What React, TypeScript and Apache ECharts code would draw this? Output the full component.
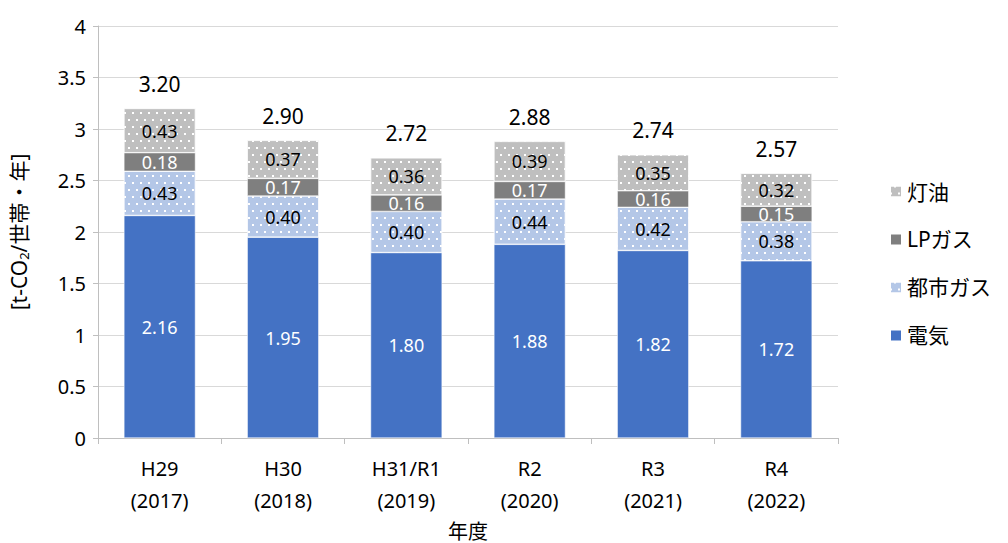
import React, { useEffect, useRef } from "react";
import * as echarts from "echarts";

const categories = ["H29\n(2017)", "H30\n(2018)", "H31/R1\n(2019)", "R2\n(2020)", "R3\n(2021)", "R4\n(2022)"];
const electricity = [2.16, 1.95, 1.8, 1.88, 1.82, 1.72];
const cityGas = [0.43, 0.4, 0.4, 0.44, 0.42, 0.38];
const lpGas = [0.18, 0.17, 0.16, 0.17, 0.16, 0.15];
const kerosene = [0.43, 0.37, 0.36, 0.39, 0.35, 0.32];
const totals = [3.2, 2.9, 2.72, 2.88, 2.74, 2.57];
const yTicks = [0, 0.5, 1, 1.5, 2, 2.5, 3, 3.5, 4];

const FONT = "'Noto Sans', 'Noto Sans CJK JP', sans-serif";

const dotDecal = {
  symbol: "rect",
  symbolSize: 1,
  color: "#ffffff",
  dashArrayX: [[2, 6], [0, 4, 2, 2]],
  dashArrayY: [2, 5],
  rotation: 0,
};

export default function App() {
  const ref = useRef<HTMLDivElement>(null);
  useEffect(() => {
    const chart = echarts.init(ref.current!, null, { renderer: "svg" });
    const fmt = (v: number) => v.toFixed(2);
    const common = (name: string, data: number[], color: string, labelColor: string, decal?: any) => ({
      name,
      type: "bar",
      stack: "total",
      data,
      barWidth: "58%",
      itemStyle: { color, borderColor: "#ffffff", borderWidth: 0.5, ...(decal ? { decal } : {}) },
      label: {
        show: true,
        position: "inside",
        color: labelColor,
        fontSize: 18,
        fontFamily: FONT,
        formatter: (p: any) => fmt(p.value),
      },
    });
    chart.setOption({
      animation: false,
      aria: { enabled: false, decal: { show: false } },
      grid: { left: 98, right: 170, top: 26, bottom: 105, outerBoundsMode: "none", containLabel: false },
      legend: {
        orient: "vertical",
        left: 884,
        top: 176,
        itemWidth: 12,
        itemHeight: 12,
        itemGap: 27,
        icon: "rect",
        data: ["灯油", "LPガス", "都市ガス", "電気"],
        textStyle: { fontSize: 21, fontFamily: FONT, color: "#000" },
      },
      xAxis: {
        type: "category",
        data: categories,
        name: "年度",
        nameLocation: "middle",
        nameGap: 80,
        nameTextStyle: { fontSize: 20, fontFamily: FONT, color: "#000", lineHeight: 22 },
        axisLine: { lineStyle: { color: "#bfbfbf" } },
        axisTick: { show: true, length: 6, lineStyle: { color: "#bfbfbf" } },
        axisLabel: { fontSize: 20, fontFamily: FONT, color: "#000", lineHeight: 32, margin: 14, interval: 0 },
      },
      yAxis: {
        type: "value",
        min: yTicks[0],
        max: yTicks[yTicks.length - 1],
        interval: 0.5,
        name: "{a|[t-CO}{s|2}{a|/世帯・年]}",
        nameLocation: "middle",
        nameRotate: 90,
        nameGap: 68,
        nameTextStyle: {
          rich: {
            a: { fontSize: 21, fontFamily: FONT, color: "#000" },
            s: { fontSize: 13, fontFamily: FONT, color: "#000", padding: [10, 0, 0, 0] },
          },
        },
        axisLine: { show: true, lineStyle: { color: "#bfbfbf" } },
        axisTick: { show: true, length: 5, lineStyle: { color: "#bfbfbf" } },
        splitLine: { lineStyle: { color: "#d9d9d9" } },
        axisLabel: { fontSize: 20, fontFamily: FONT, color: "#000", margin: 12 },
      },
      series: [
        common("電気", electricity, "#4472c4", "#ffffff"),
        common("都市ガス", cityGas, "#b4c7e7", "#000000", dotDecal),
        common("LPガス", lpGas, "#7f7f7f", "#ffffff"),
        common("灯油", kerosene, "#bfbfbf", "#000000", dotDecal),
        {
          name: "合計",
          type: "bar",
          stack: "total",
          data: totals.map(() => 0),
          barWidth: "58%",
          itemStyle: { color: "transparent" },
          label: {
            show: true,
            position: "top",
            distance: 14,
            color: "#000",
            fontSize: 21,
            fontFamily: FONT,
            formatter: (p: any) => fmt(totals[p.dataIndex]),
          },
        },
      ],
    });
    return () => chart.dispose();
  }, []);
  return <div ref={ref} style={{ width: 1008, height: 543, position: "absolute", left: 0, top: 0 }} />;
}
